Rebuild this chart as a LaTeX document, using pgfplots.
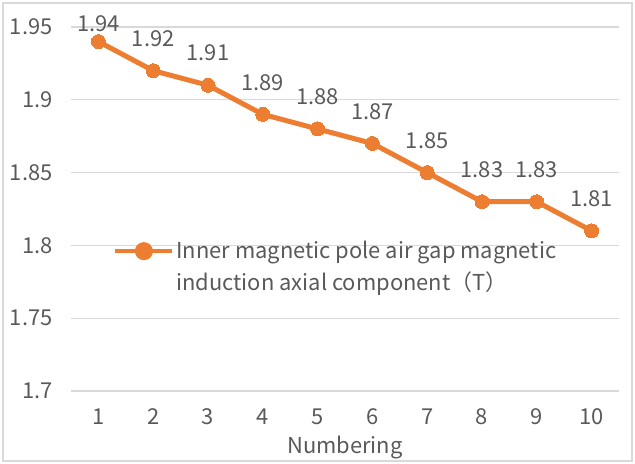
\documentclass[border=0pt]{standalone}
\usepackage{pgfplots}
\pgfplotsset{compat=1.18}
\usepackage{fontspec}
\setmainfont{Noto Sans CJK SC}
\definecolor{txt}{HTML}{595959}
\definecolor{gridc}{HTML}{D9D9D9}
\definecolor{ora}{HTML}{ED7D31}
\newcommand{\ff}{\fontsize{22}{32}\selectfont}
\begin{document}
\begin{tikzpicture}
\path[use as bounding box] (-71bp,-73bp) rectangle (564bp,391bp);
\draw[gridc, line width=1.2bp] (-68bp,-70bp) rectangle (561bp,388bp);
\begin{axis}[
 at={(0,0)}, anchor=south west,
 scale only axis, width=548bp, height=364bp,
 xmin=0.5, xmax=10.5, ymin=1.7, ymax=1.95,
 xtick={1,2,3,4,5,6,7,8,9,10},
 ytick={1.7,1.75,1.8,1.85,1.9,1.95},
 yticklabels={1.7,1.75,1.8,1.85,1.9,1.95},
 axis line style={draw=none}, major tick style={draw=none},
 ymajorgrids, grid style={gridc, line width=1.2bp},
 tick label style={font=\ff, text=txt},
 /pgf/number format/assume math mode=true,
 yticklabel style={anchor=east, xshift=-15bp},
 xticklabel style={anchor=base, yshift=-33bp},
 xlabel=Numbering, xlabel style={font=\ff, text=txt, at={(axis description cs:0.5,0)}, anchor=base, yshift=-62bp},
 nodes near coords, point meta=y,
 nodes near coords style={font=\ff, text=txt, anchor=south, inner sep=0pt, yshift=24bp,
   /pgf/number format/fixed, /pgf/number format/fixed zerofill, /pgf/number format/precision=2},
 coordinate style/.condition={x<1.5}{yshift=-14bp},
 legend style={at={(0.077,0.343)}, anchor=west, draw=none, fill=none, font=\ff, text=txt,
   nodes={align=left, inner xsep=2bp}, inner sep=0pt},
 legend cell align=left,
]
\addplot[ora, line width=5bp, mark=*, mark size=7bp, mark options={fill=ora, draw=ora, line width=0pt},
  legend image code/.code={\draw[ora, line width=4bp] (0bp,15bp) -- (57bp,15bp); \fill[ora] (28.5bp,15bp) circle (6.5bp);}]
 coordinates {(1,1.94)(2,1.92)(3,1.91)(4,1.89)(5,1.88)(6,1.87)(7,1.85)(8,1.83)(9,1.83)(10,1.81)};
\addlegendentry{Inner magnetic pole air gap magnetic\\induction axial component（T）}
\end{axis}
\end{tikzpicture}
\end{document}
